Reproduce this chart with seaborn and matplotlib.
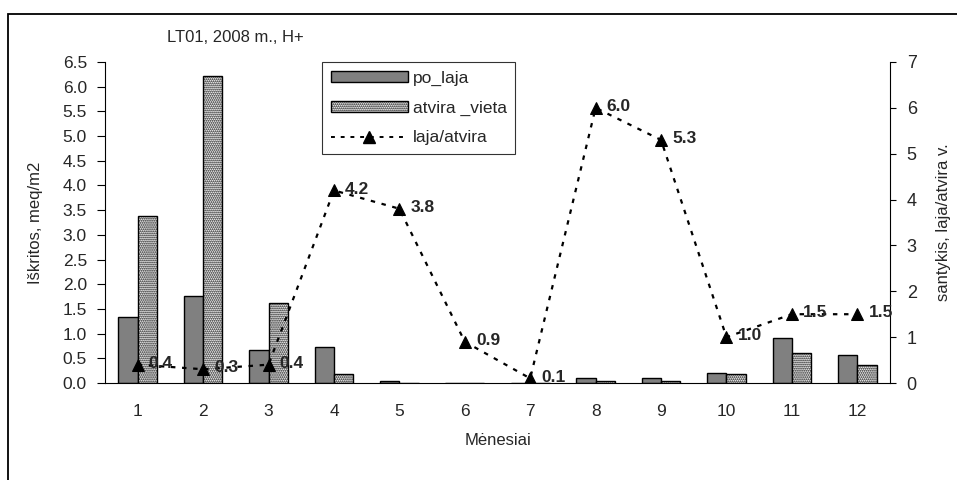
import numpy as np
import pandas as pd
import matplotlib
matplotlib.use("Agg")
import matplotlib.pyplot as plt
import seaborn as sns
from matplotlib.patches import Rectangle, Patch
from matplotlib.lines import Line2D
from matplotlib.ticker import FormatStrFormatter

# Monthly H+ deposition, LT01 2008
months = ["1", "2", "3", "4", "5", "6", "7", "8", "9", "10", "11", "12"]
po_laja = [1.34, 1.76, 0.66, 0.73, 0.04, 0.0, 0.0, 0.10, 0.10, 0.21, 0.92, 0.56]
atvira_vieta = [3.39, 6.22, 1.63, 0.18, 0.0, 0.0, 0.0, 0.04, 0.04, 0.18, 0.60, 0.37]
ratio = [0.4, 0.3, 0.4, 4.2, 3.8, 0.9, 0.1, 6.0, 5.3, 1.0, 1.5, 1.5]
ratio_labels = ["0.4", "0.3", "0.4", "4.2", "3.8", "0.9", "0.1", "6.0", "5.3", "1.0", "1.5", "1.5"]
series_names = ["po_laja", "atvira _vieta"]

sns.set_theme(style="white")
plt.rcParams["font.family"] = ["Liberation Sans", "DejaVu Sans"]
plt.rcParams["hatch.linewidth"] = 0.9
plt.rcParams["hatch.color"] = "black"

df = pd.DataFrame({
    "Mėnesiai": months * 2,
    "value": po_laja + atvira_vieta,
    "series": [series_names[0]] * 12 + [series_names[1]] * 12,
})

fig = plt.figure(figsize=(9.57, 4.8), dpi=100)
ax = fig.add_axes([105 / 957, 1 - 383 / 480, (890 - 105) / 957, (383 - 62) / 480])

# outer chart frame (runs off the right and bottom edges)
top = 1 - 14 / 480
fig.patches.append(Rectangle((8 / 957, -0.2), 1.2, top + 0.2,
                             transform=fig.transFigure, fill=False,
                             edgecolor="black", linewidth=1.3, zorder=0))

sns.barplot(data=df, x="Mėnesiai", y="value", hue="series", order=months,
            hue_order=series_names, palette=["#808080", "white"],
            width=0.59, gap=0, edgecolor="black", linewidth=1.0,
            saturation=1, ax=ax, legend=False)
for p in ax.patches[12:24]:
    p.set_hatch("........")

ax.set_xlim(-0.5, 11.5)
ax.set_ylim(0, 6.5)
ax.set_yticks(np.arange(0, 6.51, 0.5))
ax.yaxis.set_major_formatter(FormatStrFormatter("%.1f"))
ax.set_xticks(np.arange(12))
ax.set_xticklabels(months)
ax.set_xticks(np.arange(-0.5, 12, 1), minor=True)
ax.tick_params(axis="x", which="major", length=0, pad=15, labelsize=12.5)
ax.tick_params(axis="x", which="minor", length=5, width=0.8, color="black", direction="out")
ax.tick_params(axis="y", length=6, width=0.8, color="black", direction="out", left=True,
               labelsize=12.5, pad=7)
ax.set_xlabel("Mėnesiai", fontsize=12, labelpad=10)
ax.set_ylabel("Iškritos, meq/m2", fontsize=12, labelpad=14)
for s in ["left", "bottom"]:
    ax.spines[s].set_color("black")
    ax.spines[s].set_linewidth(0.8)
ax.spines["top"].set_visible(False)
ax.spines["right"].set_visible(False)

ax2 = ax.twinx()
sns.lineplot(x=np.arange(len(months)), y=ratio, ax=ax2, color="black",
             linestyle=(0, (2, 3)), linewidth=1.6, marker="^", markersize=8.5,
             markeredgecolor="black", markerfacecolor="black")
ax2.set_ylim(0, 7)
ax2.set_xlim(-0.5, 11.5)
ax2.set_yticks(np.arange(0, 8, 1))
ax2.tick_params(axis="y", length=4, width=0.8, color="black", direction="out", right=True,
                labelsize=13, pad=8)
ax2.set_ylabel("santykis, laja/atvira v.", fontsize=12, labelpad=14)
ax2.spines["right"].set_color("black")
ax2.spines["right"].set_linewidth(0.8)
for s in ["top", "left", "bottom"]:
    ax2.spines[s].set_visible(False)

for i, (v, t) in enumerate(zip(ratio, ratio_labels)):
    ax2.annotate(t, (i, v), xytext=(8, 1), textcoords="offset points",
                 ha="left", va="center", fontsize=12.5, fontweight="bold")

fig.text(167 / 957, 1 - 38 / 480, "LT01, 2008 m., H+", fontsize=12, ha="left", va="center")

handles = [
    Patch(facecolor="#808080", edgecolor="black", linewidth=1.0),
    Patch(facecolor="white", edgecolor="black", linewidth=1.0, hatch="........"),
    Line2D([0], [0], color="black", linestyle=(0, (2, 3)), linewidth=1.4,
           marker="^", markersize=8.5, markerfacecolor="black"),
]
leg = ax2.legend(handles, ["po_laja", "atvira _vieta", "laja/atvira"],
                 loc="upper left", bbox_to_anchor=(0.277, 1.0), fontsize=12.5,
                 handlelength=4.4, handleheight=0.55, labelspacing=0.85,
                 handletextpad=0.3, borderpad=0.5, borderaxespad=0.0,
                 fancybox=False, frameon=True, edgecolor="black")
leg.get_frame().set_linewidth(0.8)

fig.savefig("out.png", dpi=100)
